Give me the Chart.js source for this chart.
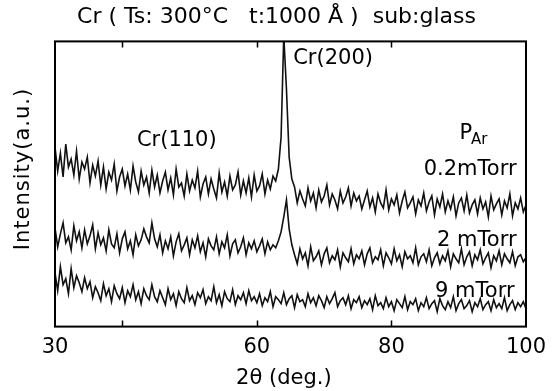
<!DOCTYPE html>
<html>
<head>
<meta charset="utf-8">
<script src="https://cdn.jsdelivr.net/npm/chart.js@4/dist/chart.umd.min.js"></script>
<style>
  html, body { margin: 0; padding: 0; background: #fff; }
  #wrap { width: 557px; height: 391px; }
</style>
</head>
<body>
<div id="wrap"><canvas id="c" width="557" height="391"></canvas></div>
<script>
// 2θ measurement grid (deg.)
const twoTheta = [
  30,30.4,30.8,31.2,31.6,32,32.4,32.8,33.2,33.6,
  34,34.4,34.8,35.2,35.6,36,36.4,36.8,37.2,37.6,
  38,38.4,38.8,39.2,39.6,40,40.4,40.8,41.2,41.6,
  42,42.4,42.8,43.2,43.6,44,44.4,44.8,45.2,45.6,
  46,46.4,46.8,47.2,47.6,48,48.4,48.8,49.2,49.6,
  50,50.4,50.8,51.2,51.6,52,52.4,52.8,53.2,53.6,
  54,54.4,54.8,55.2,55.6,56,56.4,56.8,57.2,57.6,
  58,58.4,58.8,59.2,59.6,60,60.4,60.8,61.2,61.6,
  62,62.4,62.8,63.2,63.6,64,64.4,64.8,65.2,65.6,
  66,66.4,66.8,67.2,67.6,68,68.4,68.8,69.2,69.6,
  70,70.4,70.8,71.2,71.6,72,72.4,72.8,73.2,73.6,
  74,74.4,74.8,75.2,75.6,76,76.4,76.8,77.2,77.6,
  78,78.4,78.8,79.2,79.6,80,80.4,80.8,81.2,81.6,
  82,82.4,82.8,83.2,83.6,84,84.4,84.8,85.2,85.6,
  86,86.4,86.8,87.2,87.6,88,88.4,88.8,89.2,89.6,
  90,90.4,90.8,91.2,91.6,92,92.4,92.8,93.2,93.6,
  94,94.4,94.8,95.2,95.6,96,96.4,96.8,97.2,97.6,
  98,98.4,98.8,99.2,99.6,100
];

// Intensity (a.u., traces stacked with offsets as in the figure)
const p02mTorr = [
  180,156,174,150,183,160,168,152,
  176,148,165,158,170,144,162,151,166,142,
  160,138,155,147,163,136,150,158,141,153,137,161,145,135,156,142,150,134,157,140,
  152,134,146,155,137,149,132,158,140,144,131,153,136,147,139,156,130,143,150,133,
  148,138,129,154,135,145,131,151,137,142,155,132,146,134,149,130,152,136,
  141,153,133,147,138,151,146,158,190,
  292,238,170,148,
  140,124,136,128,121,139,126,134,119,137,125,131,142,122,133,127,118,136,124,130,139,121,134,126,
  131,118,127,136,120,129,115,133,124,119,
  137,117,128,122,132,114,126,135,119,124,
  130,113,127,121,134,116,125,131,112,128,
  120,133,115,126,118,130,111,124,129,116,
  132,114,122,127,113,129,118,125,110,131,
  117,123,128,112,126,119,133,111,124,118,
  129,115,122
];
const p2mTorr = [
  99,80,93,104,84,90,77,101,86,95,79,97,83,91,102,78,94,82,
  89,76,97,83,79,93,74,88,95,78,86,72,92,81,87,98,90,84,104,88,
  80,92,74,86,78,90,71,85,93,76,82,89,72,87,79,91,75,84,70,88,
  81,77,90,73,85,79,92,71,83,87,74,80,89,72,84,78,86,75,
  81,88,73,85,77,82,79,86,95,
  110,127,98,82,
  72,63,78,68,74,61,80,66,70,76,62,73,79,64,71,67,77,60,74,69,65,78,63,72,
  68,76,62,73,79,64,70,67,77,61,
  74,69,63,78,66,72,60,75,68,71,
  64,79,62,70,73,65,77,61,69,74,
  63,71,66,76,60,73,68,64,78,62,
  70,75,61,72,67,77,63,69,74,59,
  71,66,76,62,73,68,64,75,61,70,
  72,65,69
];
const p9mTorr = [
  54,36,60,42,48,33,58,39,51,44,35,49,38,
  45,29,40,34,26,43,31,38,25,41,33,28,39,24,36,30,42,27,35,23,38,31,27,42,30,
  25,36,29,22,38,27,33,21,35,28,24,39,26,31,22,34,29,37,23,30,
  26,40,24,32,21,35,28,25,37,22,31,27,34,23,36,26,30,24,
  33,21,29,25,35,20,30,27,23,34,22,28,31,19,32,25,27,20,33,24,
  29,21,31,26,19,30,23,28,34,20,26,29,22,31,18,27,24,
  30,19,26,22,28,17,31,21,24,18,
  29,20,25,16,27,23,19,30,17,25,
  22,28,16,24,20,29,18,23,26,15,
  28,21,17,25,19,30,16,23,27,18,
  21,26,15,24,20,28,17,22,25,16,
  27,19,23,18,29,16,22,26,17,24,
  20,25,18
];

const seriesNames = ['0.2 mTorr', '2 mTorr', '9 mTorr'];
const xTickValues = [30, 40, 60, 80, 100];
const xTickLabels = ['30', '', '60', '80', '100'];
const innerTickValues = [40, 60, 80];

// Text annotations [text, 2θ, intensity, align]
const peakLabels = [
  ['Cr(110)', 48.1, 187, 'center'],
  ['Cr(200)', 65.4, 269, 'left']
];
const pressureLabels = [
  ['0.2mTorr', 98.6, 157],
  ['2 mTorr', 98.6, 86],
  ['9 mTorr', 98.3, 35]
];

const FONT = "'DejaVu Sans', sans-serif";

function toXY(vals) { return vals.map((v, i) => ({ x: twoTheta[i], y: v })); }

const framePlugin = {
  id: 'frame',
  afterDraw(chart) {
    const { ctx, chartArea: a, scales: { x, y } } = chart;
    ctx.save();
    ctx.strokeStyle = '#000';
    ctx.lineWidth = 2;
    ctx.strokeRect(a.left, a.top, a.right - a.left, a.bottom - a.top);
    ctx.lineWidth = 1.5;
    innerTickValues.forEach(v => {
      const px = Math.round(x.getPixelForValue(v)) + 0.5;
      ctx.beginPath();
      ctx.moveTo(px, a.bottom); ctx.lineTo(px, a.bottom - 6);
      ctx.moveTo(px, a.top); ctx.lineTo(px, a.top + 6);
      ctx.stroke();
    });
    ctx.fillStyle = '#000';
    ctx.textBaseline = 'middle';
    ctx.font = "21px " + FONT;
    peakLabels.forEach(([t, xv, yv, al]) => {
      ctx.textAlign = al;
      ctx.fillText(t, x.getPixelForValue(xv), y.getPixelForValue(yv));
    });
    ctx.textAlign = 'right';
    pressureLabels.forEach(([t, xv, yv]) => {
      ctx.fillText(t, x.getPixelForValue(xv), y.getPixelForValue(yv));
    });
    // P_Ar
    const px = x.getPixelForValue(90.1), py = y.getPixelForValue(194);
    ctx.textAlign = 'left';
    ctx.font = "21px " + FONT;
    ctx.fillText('P', px, py);
    const pw = ctx.measureText('P').width;
    ctx.font = "15px " + FONT;
    ctx.fillText('Ar', px + pw - 1, py + 7);
    // y axis title
    ctx.save();
    ctx.translate(24, 169);
    ctx.rotate(-Math.PI / 2);
    ctx.textAlign = 'center';
    ctx.font = "21px " + FONT;
    try { ctx.letterSpacing = '1px'; } catch (e) {}
    ctx.fillText('Intensity(a.u.)', 0, 0);
    try { ctx.letterSpacing = '0px'; } catch (e) {}
    ctx.restore();
    ctx.restore();
  }
};

new Chart(document.getElementById('c'), {
  type: 'line',
  data: {
    datasets: [
      { label: seriesNames[0], data: toXY(p02mTorr) },
      { label: seriesNames[1], data: toXY(p2mTorr) },
      { label: seriesNames[2], data: toXY(p9mTorr) }
    ].map(d => Object.assign(d, {
      borderColor: '#111', borderWidth: 1.6, pointRadius: 0, tension: 0, fill: false
    }))
  },
  options: {
    responsive: false,
    animation: false,
    layout: { padding: { left: 55, right: 31, top: 0, bottom: 0 } },
    plugins: {
      legend: { display: false },
      tooltip: { enabled: false },
      title: {
        display: true,
        text: 'Cr ( Ts: 300\u00B0C   t:1000 \u00C5 )  sub:glass    ',
        color: '#000',
        font: { family: FONT, size: 22, weight: 'normal' },
        padding: { top: 4, bottom: 11 }
      }
    },
    scales: {
      x: {
        type: 'linear', min: 30, max: 100,
        afterBuildTicks: s => { s.ticks = xTickValues.map(v => ({ value: v })); },
        ticks: {
          autoSkip: false, maxRotation: 0, color: '#000', padding: 8,
          font: { family: FONT, size: 21 },
          callback: (v) => xTickLabels[xTickValues.indexOf(v)] ?? ''
        },
        grid: { display: false, drawTicks: false },
        border: { display: false },
        title: {
          display: true, text: '2\u03B8 (deg.)  ', color: '#000',
          font: { family: FONT, size: 21 }, padding: { top: -2, bottom: 0 }
        }
      },
      y: {
        display: false, min: 0, max: 286
      }
    }
  },
  plugins: [framePlugin]
});
</script>
</body>
</html>
